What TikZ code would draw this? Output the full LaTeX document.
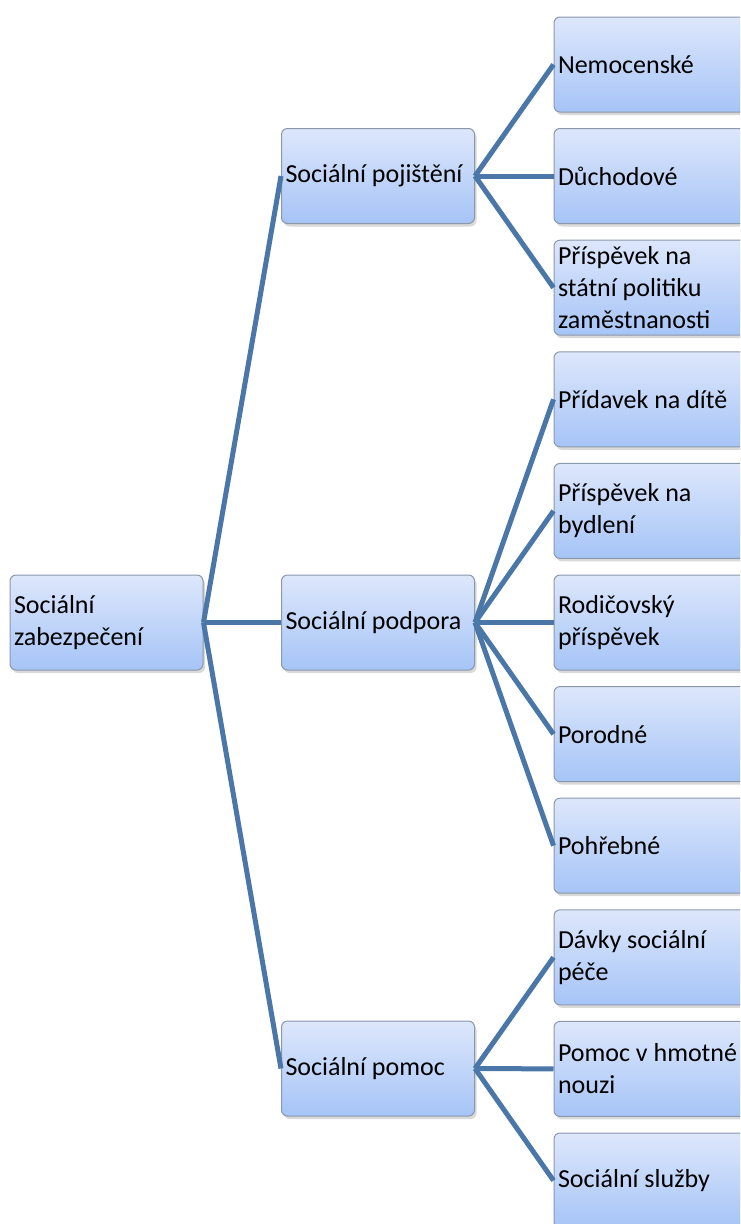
\documentclass[tikz,border=0pt]{standalone}
\usepackage{fontspec}
\setmainfont{Carlito}
\usetikzlibrary{shadows}

\definecolor{linkblue}{RGB}{74,118,168}
\definecolor{boxtop}{RGB}{221,231,251}
\definecolor{boxbot}{RGB}{166,196,247}
\definecolor{boxline}{RGB}{138,152,172}

\begin{document}
\begin{tikzpicture}[
      x=1pt, y=1pt,
      box/.style={draw=boxline, line width=1pt, rounded corners=6pt, top color=boxtop, bottom color=boxbot,
        minimum width=193pt, minimum height=95pt, text width=185pt, inner xsep=4pt, align=flush left,
        font=\fontsize{26}{32}\selectfont,
        drop shadow={opacity=0.3, shadow xshift=2pt, shadow yshift=-3pt}},
      link/.style={draw=linkblue, line width=5pt}
    ]
    \useasboundingbox (0,0) rectangle (740,-1224);
    \clip (0,0) rectangle (740,-1224);

    \node[box] (zab) at (106.5,-622.5) {Sociální\\zabezpečení};
    \node[box] (poj) at (378,-176) {Sociální pojištění};
    \node[box] (pod) at (378,-622.5) {Sociální podpora};
    \node[box] (pom) at (378,-1068.5) {Sociální pomoc};

    \foreach \n/\y/\t in {nem/64.5/{Nemocenské}, duch/176/{Důchodové},
        spz/287.7/{Příspěvek na\\státní politiku\\zaměstnanosti},
        pdd/399.3/{Přídavek na dítě}, byd/510.9/{Příspěvek na\\bydlení},
        rod/622.5/{Rodičovský\\příspěvek}, por/734.1/{Porodné}, poh/845.7/{Pohřebné},
        dsp/957.3/{Dávky sociální\\péče}, hmn/1068.9/{Pomoc v hmotné\\nouzi},
        slu/1180.5/{Sociální služby}}
      \node[box] (\n) at (650.5,-\y) {\t};

    \foreach \a/\b in {zab/poj, zab/pod, zab/pom, poj/nem, poj/duch, poj/spz,
        pod/pdd, pod/byd, pod/rod, pod/por, pod/poh, pom/dsp, pom/hmn, pom/slu}
      \draw[link] (\a.east) -- (\b.west);
  \end{tikzpicture}
\end{document}
